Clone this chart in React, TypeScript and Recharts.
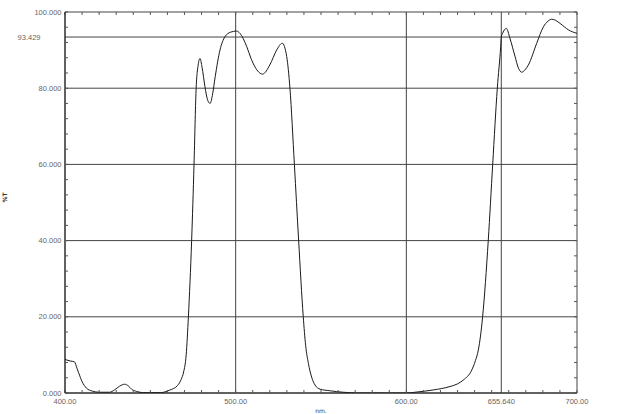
import { LineChart, Line, XAxis, YAxis, CartesianGrid } from 'recharts';

// wavelength (nm) and transmittance (%T)
const wavelengths = [
  400, 403, 405.5, 407, 408, 410, 412.5, 416, 420, 426, 429, 432, 435, 437, 439, 442, 446, 456,
  461, 466, 468, 469.5, 471, 472.3, 474.2, 475.6, 476.8, 478, 479.1, 480.3, 482, 483.5, 485,
  486.5, 488, 490.8, 493.7, 497, 500.5, 502.5, 506.5, 509, 511.3, 515.8, 520, 524, 527.3, 529.9,
  531.8, 534.4, 536.9, 539.6, 541, 542.6, 544.5, 546.5, 549.5, 555, 563, 572, 600, 605, 615.8,
  625.6, 630, 633.4, 638.3, 640.5, 642.2, 644.7, 648, 650.6, 653.3, 655.3, 655.64, 656.5, 658.6,
  660.7, 663.7, 665.5, 667.6, 669.5, 671.5, 676.4, 680.3, 683, 685.2, 687.5, 690.1, 695, 700,
];
const transmittance = [
  8.8, 8.4, 8.2, 6.5, 5.3, 3.0, 1.3, 0.5, 0.2, 0.2, 0.8, 1.8, 2.3, 1.9, 1.0, 0.4, 0.1, 0.1,
  0.7, 2.0, 3.5, 5.5, 10, 20, 40, 60, 79.5, 86, 87.8, 85.5, 80.4, 77, 76,
  78.5, 83, 90, 93.5, 94.7, 95, 94.4, 90.9, 87.8, 85.6, 83.7, 86.1, 90, 91.8, 88.3,
  80, 60, 40, 20, 12.5, 7.8, 4.2, 2.1, 1.0, 0.6, 0.2, 0, 0, 0.2, 0.8,
  1.7, 2.4, 3.4, 6, 8.5, 11.3, 20, 40, 60, 80, 91, 93.429, 94.5, 95.7,
  93.1, 88.3, 85.5, 84.2, 84.8, 86.1, 91.8, 96.1, 97.6, 98.1, 97.8, 97, 95.3, 94.4,
];

const xTicks = [400, 500, 600, 655.64, 700];
const yTicks = [0, 20, 40, 60, 80, 93.429, 100];
const xMinorTicks = [400, 410, 420, 430, 440, 450, 460, 470, 480, 490, 500, 510, 520, 530, 540, 550,
  560, 570, 580, 590, 600, 610, 620, 630, 640, 650, 660, 670, 680, 690, 700];
const yMinorTicks = [0, 4, 8, 12, 16, 20, 24, 28, 32, 36, 40, 44, 48, 52, 56, 60, 64, 68, 72, 76, 80,
  84, 88, 92, 96, 100];

const data = wavelengths.map((nm, i) => ({ nm, t: transmittance[i] }));

const labelStyle = { fontFamily: 'Liberation Sans, Arial, sans-serif', fontSize: 7.5, fill: '#666' };

const XTick = ({ x, y, payload }: any) => (
  <text x={x} y={y} dy="0.71em" textAnchor="middle" {...labelStyle}>
    {payload.value === 655.64 ? '655.640' : payload.value.toFixed(2)}
  </text>
);

const YTick = ({ x, y, payload }: any) => (
  <text x={payload.value === 93.429 ? x - 21 : x} y={y} dy="0.355em" textAnchor="end" {...labelStyle}>
    {payload.value.toFixed(3)}
  </text>
);

const EmptyTick = () => <g />;

const minorProps = {
  type: 'number' as const,
  interval: 0,
  mirror: true,
  axisLine: false,
  tickSize: 3,
  stroke: '#555',
  tickLine: true,
  tick: EmptyTick,
  allowDataOverflow: true,
};

export default function App() {
  return (
    <div style={{ position: 'absolute', left: 0, top: 0, background: '#fff' }}>
      <LineChart width={641} height={414} data={data} margin={{ top: 12, right: 64, left: 0, bottom: 0 }}>
        <CartesianGrid stroke="#444" strokeWidth={1} />
        <XAxis
          dataKey="nm"
          type="number"
          domain={[400, 700]}
          ticks={xTicks}
          interval={0}
          height={21}
          tickLine={false}
          tickSize={0}
          tickMargin={6}
          tick={XTick}
          axisLine={{ stroke: '#222' }}
          allowDataOverflow
          label={{ value: 'nm.', position: 'insideBottom', offset: 1, fontSize: 6, fill: '#333', fontFamily: 'DejaVu Sans' }}
        />
        <XAxis xAxisId="mb" dataKey="nm" orientation="bottom" height={1} domain={[400, 700]} ticks={xMinorTicks} {...minorProps} />
        <XAxis xAxisId="mt" dataKey="nm" orientation="top" height={1} domain={[400, 700]} ticks={xMinorTicks} {...minorProps} />
        <YAxis
          type="number"
          domain={[0, 100]}
          ticks={yTicks}
          interval={0}
          width={65}
          tickLine={false}
          tickSize={0}
          tickMargin={3.5}
          tick={YTick}
          axisLine={{ stroke: '#222' }}
          allowDataOverflow
          label={{ value: '%T', angle: -90, position: 'insideLeft', offset: 5, fontSize: 6, fill: '#333', fontFamily: 'DejaVu Sans', fontWeight: 'bold' }}
        />
        <YAxis yAxisId="ml" orientation="left" width={1} domain={[0, 100]} ticks={yMinorTicks} {...minorProps} />
        <YAxis yAxisId="mr" orientation="right" width={1} domain={[0, 100]} ticks={yMinorTicks} {...minorProps} />
        {/* invisible series so the tick-only axes get registered */}
        <Line xAxisId="mb" yAxisId="ml" dataKey="t" stroke="none" dot={false} isAnimationActive={false} />
        <Line xAxisId="mt" yAxisId="mr" dataKey="t" stroke="none" dot={false} isAnimationActive={false} />
        <Line
          type="monotone"
          dataKey="t"
          stroke="#1a1a1a"
          strokeWidth={1}
          dot={false}
          isAnimationActive={false}
        />
      </LineChart>
    </div>
  );
}
